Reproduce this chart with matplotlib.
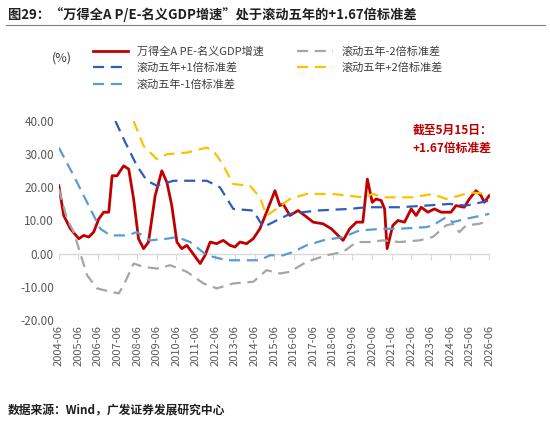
import matplotlib
matplotlib.use("Agg")
import matplotlib.pyplot as plt
import numpy as np

plt.rcParams['font.family'] = ['Noto Sans CJK SC', 'DejaVu Sans']

red_x = [2004.50,2004.75,2005.09,2005.52,2005.77,2006.03,2006.28,2006.54,2006.79,2007.05,2007.22,2007.47,2007.81,2008.07,2008.32,2008.57,2008.83,2009.08,2009.42,2009.76,2010.02,2010.27,2010.53,2010.78,2011.04,2011.29,2011.72,2011.97,2012.23,2012.56,2012.90,2013.24,2013.50,2013.75,2014.09,2014.43,2014.77,2015.11,2015.54,2015.79,2015.96,2016.30,2016.72,2017.06,2017.49,2018.00,2018.42,2019.02,2019.36,2019.70,2020.03,2020.26,2020.51,2020.71,2020.97,2021.14,2021.27,2021.56,2021.82,2022.16,2022.50,2022.75,2023.01,2023.35,2023.69,2024.03,2024.53,2024.79,2025.21,2025.47,2025.81,2026.07,2026.23,2026.49]
red_y = [20.5,11.5,7.5,4.5,5.5,5,6.5,10.5,12.5,12.5,23.5,23.5,26.5,25.5,16.5,4.5,1.5,3.5,17.5,25,21.5,14.5,3.5,1.5,2.5,0.5,-3,-0.5,3.5,3,4,2.5,2,3.5,3,4.5,7.5,12.5,19,14.5,15,11.5,13,11.5,9.5,9,7.5,4,7.5,9.5,9.5,22.5,15.5,16.5,16,13.5,1.5,8.5,10,9.5,13.5,11.5,14,12.5,13.5,12.5,12.5,14.5,14,16.5,19,17.5,15.5,17.5]

p2_x = [2008.32,2008.83,2009.51,2010.02,2011.04,2012.06,2012.39,2012.82,2013.41,2014.26,2014.77,2015.11,2015.62,2016.30,2017.15,2018.51,2020.03,2020.54,2021.05,2022.58,2023.60,2024.28,2024.96,2025.47,2026.49]
p2_y = [40,32.5,28.5,30,30.5,32,31,27.5,21,20.5,17,11.5,13.5,16.5,18,18,17,18,17,17,18,16.5,17.5,18.5,18]

p1_x = [2007.39,2007.90,2008.49,2009.00,2009.51,2010.36,2012.06,2012.73,2013.41,2014.43,2014.94,2015.62,2016.30,2017.66,2019.36,2020.20,2021.90,2023.26,2024.45,2025.30,2026.49]
p1_y = [40,33.5,26.5,22,20.5,22,22,20,13.5,13,8,10,12,13,13.5,14,14,14.5,15,14.5,16]

m1_x = [2004.5,2005.26,2006.11,2006.62,2007.13,2007.98,2008.49,2009.17,2010.02,2010.53,2011.21,2012.06,2013.07,2014.26,2014.77,2015.28,2015.96,2016.47,2017.15,2018.00,2019.02,2019.86,2021.05,2021.90,2023.26,2023.60,2024.28,2024.62,2025.30,2026.49]
m1_y = [32,23.5,13.5,7.5,5.5,5.5,6.5,4,4.5,5,3.5,-0.5,-2,-2,-2,-0.5,-0.5,0.5,2.5,4,5,7,7.5,7.5,8,8.5,11,9.5,10.5,12]

m2_x = [2004.5,2004.92,2005.26,2005.52,2005.94,2006.45,2007.13,2007.56,2007.81,2008.32,2008.83,2009.51,2010.19,2011.04,2011.89,2012.56,2013.41,2014.43,2015.11,2015.79,2016.30,2017.15,2018.17,2019.02,2019.70,2020.37,2021.05,2021.90,2022.92,2023.60,2024.28,2024.62,2024.96,2025.30,2025.98,2026.49]
m2_y = [19.5,10.5,6.5,1.5,-6.5,-10.5,-11.5,-12,-9.5,-3,-4,-4.5,-3.5,-5.5,-9,-10.5,-9,-8.5,-5,-6,-5.5,-2.5,-0.5,0.5,3.5,3.5,4,3.5,4,5,8.5,9,6.5,8.5,9,10]

years = list(range(2004, 2027))
tick_labels = [f"{y}-06" for y in years]

fig = plt.figure(figsize=(5.5, 4.22), dpi=100)
ax = fig.add_axes([0.107, 0.242, 0.783, 0.471])
dash = (0, (5, 3))
l1, = ax.plot(red_x, red_y, color='#C00000', lw=2, label='万得全A PE-名义GDP增速')
l2, = ax.plot(m2_x, m2_y, color='#A5A5A5', lw=1.6, ls=dash, label='滚动五年-2倍标准差')
l3, = ax.plot(p1_x, p1_y, color='#2F5CB8', lw=1.6, ls=dash, label='滚动五年+1倍标准差')
l4, = ax.plot(p2_x, p2_y, color='#FFC000', lw=1.6, ls=dash, label='滚动五年+2倍标准差')
l5, = ax.plot(m1_x, m1_y, color='#5B9BD5', lw=1.6, ls=dash, label='滚动五年-1倍标准差')

ax.set_xlim(2004.5, 2026.5)
ax.set_ylim(-20, 40)
ax.set_yticks(np.arange(-20, 41, 10))
ax.set_yticklabels([f"{v:.2f}" for v in np.arange(-20, 41, 10)], fontsize=8.5, color='#595959')
ax.set_xticks([y + 0.5 for y in years])
ax.set_xticklabels(tick_labels, rotation=90, fontsize=8, color='#595959')
ax.tick_params(axis='both', length=0)
for s in ax.spines.values():
    s.set_visible(False)
ax.axhline(0, color='#D9D9D9', lw=1, zorder=0)
sec = ax.secondary_xaxis(1/3)
sec.set_xticks([y + 0.5 for y in years])
sec.set_xticklabels([])
sec.tick_params(length=4, color='#D9D9D9', direction='out')
sec.spines['bottom'].set_visible(False)

fig.legend(handles=[l1, l3, l5, l2, l4], loc='upper left', bbox_to_anchor=(0.15, 0.915),
           ncol=2, frameon=False, fontsize=8, handlelength=3.2, columnspacing=3.0,
           labelspacing=0.55, labelcolor='#404040')
fig.text(0.095, 0.855, '(%)', fontsize=9, color='#404040')

ax.text(2024.6, 34.5, '截至5月15日：\n+1.67倍标准差', color='#C00000', fontsize=8.5,
        fontweight='bold', ha='center', va='center', linespacing=1.5)

fig.text(0.015, 0.965, '图29：“万得全A P/E-名义GDP增速”处于滚动五年的+1.67倍标准差', fontsize=9.5,
         fontweight='bold', va='center', color='#1F1F1F')
fig.add_artist(plt.Line2D([0.01, 0.99], [0.94, 0.94], color='#7F7F7F', lw=0.8))
fig.text(0.015, 0.025, '数据来源：Wind，广发证券发展研究中心', fontsize=8.5, fontweight='bold',
         va='center', color='#1F1F1F')

fig.savefig('out.png', dpi=100)
